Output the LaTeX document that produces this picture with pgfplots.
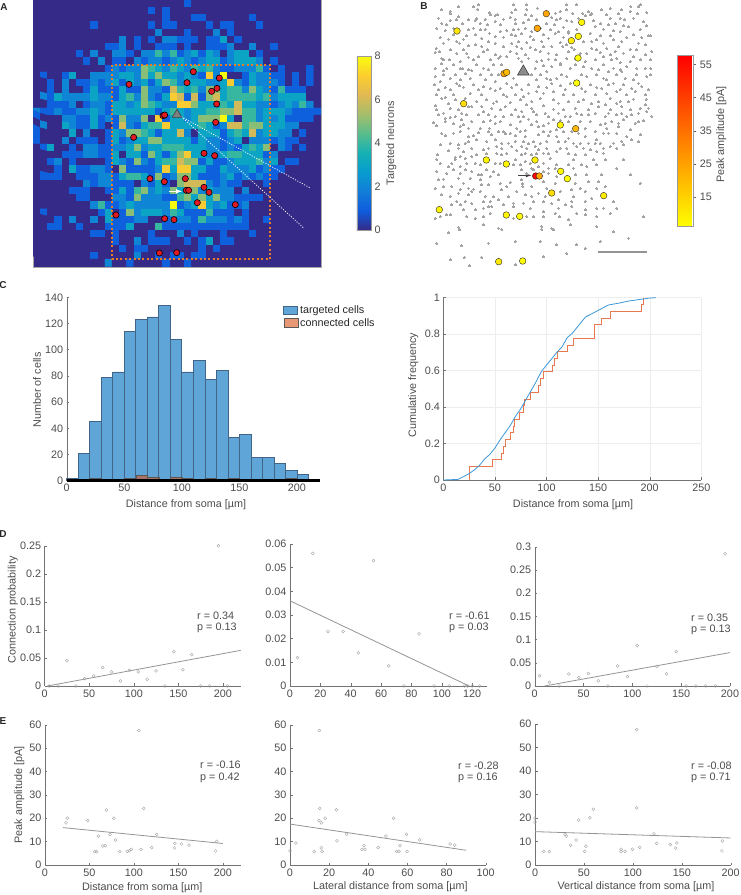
\documentclass[border=0pt]{standalone}
\usepackage{pgfplots}
\pgfplotsset{compat=1.18}
\usepackage{fontspec}
\setmainfont{Liberation Sans}
\definecolor{txt}{gray}{0.3}
\definecolor{barblue}{RGB}{95,165,215}
\definecolor{baredge}{RGB}{65,100,135}
\definecolor{conn}{RGB}{217,83,25}
\definecolor{cdfblue}{RGB}{60,150,215}
\definecolor{cdforange}{RGB}{232,120,80}
\definecolor{navy0}{RGB}{53,42,135}
\newcommand\fs{\fontsize{10.8}{12}\selectfont}
\pgfplotsset{
 base/.style={scale only axis, axis lines=left, axis line style={draw=black!55,-},
  tick style={draw=black!55,line width=.4pt}, major tick length=2.5pt, tick align=inside,
  ticklabel style={font=\fs,text=txt}, label style={font=\fs,text=txt}, scaled y ticks=false,
  /pgf/number format/assume math mode=true, /pgf/number format/fixed, /pgf/number format/precision=2, clip=false},
 xl/.style 2 args={x label style={at={(axis description cs:#1,#2)},anchor=center}},
 yl/.style 2 args={y label style={at={(axis description cs:#1,#2)},anchor=center}},
 dots/.style={only marks, mark=o, mark size=1.5, mark options={draw=black!38,line width=.35pt}},
 fit/.style={draw=black!42, line width=.8pt},
 cb/.style={scale only axis, ticklabel style={font=\fs,text=txt}, label style={font=\fs,text=txt},
  /pgf/number format/assume math mode=true, axis line style={draw=black!40,line width=.5pt},
  yticklabel pos=right, ytick pos=right, xtick=\empty},
}
\begin{document}
\begin{tikzpicture}[x=1pt,y=1pt]
\useasboundingbox (0,0) rectangle (740,895);
% ---------- A
\begin{axis}[scale only axis, at={(33pt,628pt)}, anchor=south west, width=288pt, height=267pt,
 xmin=100, xmax=964, ymin=0, ymax=801, y dir=reverse, xtick=\empty, ytick=\empty,
 axis background/.style={fill=navy0},
 axis line style={draw=black!35,line width=.6pt}, 
 colormap={parula}{rgb255=(53,42,135) rgb255=(15,92,221) rgb255=(18,125,216) rgb255=(7,156,207) rgb255=(21,177,180) rgb255=(89,189,140) rgb255=(165,190,107) rgb255=(225,185,82) rgb255=(252,206,46) rgb255=(249,251,14)},
 point meta min=0, point meta max=8,
 colorbar, colorbar style={at={(1.125,0.79)}, anchor=north west, width=14pt, height=174pt, cb,
  ytick={0,2,4,6,8}, major tick length=0pt, ylabel={Targeted neurons},
  y label style={at={(axis description cs:2.45,0.5)},anchor=center}}]
\addplot[matrix plot*, mesh/cols=40, point meta=explicit]
 table[header=false, row sep=\\, x expr={100+21.6*mod(\coordindex,40)+10.8}, y expr={21.6*floor(\coordindex/40)+10.8}, meta index=0]{
0\\0\\0\\0\\0\\0\\0\\0\\0\\0\\0\\0\\0\\0\\0\\0\\0\\0\\0\\0\\0\\1\\0\\0\\0\\0\\0\\0\\0\\0\\0\\0\\0\\0\\0\\0\\0\\0\\0\\0\\
0\\0\\0\\0\\0\\0\\0\\0\\0\\0\\0\\0\\0\\0\\0\\0\\1\\0\\1\\0\\0\\0\\0\\0\\0\\0\\0\\0\\0\\0\\0\\0\\0\\0\\0\\0\\0\\0\\0\\0\\
0\\0\\0\\0\\0\\0\\0\\0\\0\\0\\0\\0\\0\\0\\0\\0\\0\\0\\1\\0\\0\\0\\1\\1\\0\\0\\0\\0\\0\\0\\1\\0\\0\\0\\0\\0\\0\\0\\0\\0\\
0\\0\\0\\0\\0\\0\\0\\0\\1\\0\\0\\0\\0\\0\\0\\0\\1\\0\\1\\1\\0\\0\\0\\0\\1\\0\\1\\1\\0\\0\\0\\1\\0\\0\\0\\0\\0\\0\\0\\0\\
0\\0\\0\\0\\0\\0\\0\\0\\0\\0\\0\\0\\0\\0\\0\\0\\0\\2\\0\\0\\0\\1\\0\\0\\0\\2\\0\\1\\0\\0\\0\\0\\0\\0\\0\\0\\0\\0\\0\\0\\
0\\0\\0\\0\\0\\0\\0\\0\\0\\0\\0\\0\\2\\0\\1\\0\\1\\0\\2\\2\\1\\1\\1\\0\\1\\1\\3\\0\\1\\0\\0\\0\\0\\0\\0\\0\\0\\0\\0\\0\\
0\\0\\0\\0\\0\\0\\0\\0\\0\\0\\1\\1\\2\\0\\1\\0\\0\\1\\1\\1\\0\\1\\0\\0\\1\\1\\1\\2\\0\\0\\2\\0\\0\\1\\0\\0\\0\\0\\0\\0\\
0\\0\\0\\0\\0\\0\\1\\0\\2\\0\\0\\2\\2\\1\\0\\2\\2\\4\\2\\4\\1\\2\\3\\1\\3\\2\\0\\2\\3\\3\\0\\1\\0\\0\\0\\0\\0\\0\\0\\0\\
0\\0\\0\\0\\0\\0\\0\\1\\0\\2\\0\\1\\1\\0\\2\\1\\2\\2\\1\\2\\3\\2\\1\\2\\3\\3\\1\\2\\3\\3\\3\\2\\0\\1\\0\\0\\0\\0\\0\\0\\
0\\0\\0\\0\\0\\0\\0\\0\\0\\0\\1\\2\\1\\2\\2\\5\\4\\3\\2\\4\\3\\2\\4\\3\\4\\2\\1\\1\\2\\2\\2\\4\\1\\0\\1\\0\\0\\0\\1\\0\\
0\\1\\0\\0\\1\\3\\0\\0\\2\\2\\2\\2\\3\\3\\2\\5\\3\\5\\3\\3\\2\\3\\2\\1\\7\\2\\8\\0\\0\\1\\3\\2\\2\\1\\1\\0\\1\\0\\1\\0\\
0\\0\\1\\0\\2\\0\\1\\1\\2\\1\\2\\3\\1\\3\\2\\3\\1\\3\\5\\4\\2\\3\\3\\3\\2\\2\\3\\7\\2\\1\\3\\2\\2\\2\\1\\0\\1\\0\\1\\0\\
0\\0\\1\\0\\2\\0\\0\\1\\3\\1\\1\\1\\3\\1\\1\\5\\2\\2\\1\\6\\4\\3\\4\\2\\5\\5\\3\\4\\4\\2\\5\\3\\2\\1\\4\\1\\1\\1\\0\\0\\
0\\2\\1\\3\\2\\2\\2\\2\\3\\2\\2\\1\\3\\4\\2\\5\\2\\1\\3\\7\\6\\1\\6\\1\\5\\6\\3\\4\\4\\4\\4\\3\\4\\2\\3\\3\\3\\3\\0\\0\\
0\\0\\1\\1\\1\\2\\0\\1\\2\\2\\1\\3\\3\\2\\3\\5\\4\\3\\2\\2\\7\\7\\5\\3\\3\\3\\4\\3\\6\\3\\3\\2\\2\\1\\2\\3\\2\\4\\2\\0\\
2\\1\\1\\2\\1\\1\\2\\2\\3\\2\\1\\3\\3\\3\\3\\3\\3\\1\\3\\4\\3\\2\\3\\3\\4\\4\\5\\5\\6\\4\\4\\2\\3\\3\\3\\2\\1\\1\\1\\1\\
1\\0\\0\\0\\2\\2\\1\\1\\3\\1\\2\\1\\5\\2\\2\\5\\0\\7\\1\\3\\3\\2\\3\\5\\5\\5\\8\\3\\0\\4\\4\\2\\3\\2\\3\\1\\1\\1\\1\\0\\
0\\2\\0\\0\\3\\2\\1\\1\\3\\1\\0\\1\\6\\2\\1\\3\\4\\4\\7\\3\\3\\3\\3\\4\\3\\1\\2\\6\\6\\4\\5\\5\\3\\3\\3\\2\\2\\0\\0\\0\\
1\\0\\0\\0\\0\\3\\0\\2\\0\\0\\1\\3\\2\\5\\5\\4\\3\\1\\3\\3\\6\\2\\0\\3\\3\\3\\1\\3\\4\\3\\6\\2\\3\\3\\2\\2\\0\\1\\0\\0\\
1\\0\\0\\0\\2\\0\\1\\1\\1\\0\\1\\3\\1\\2\\3\\3\\5\\5\\3\\3\\3\\3\\1\\3\\2\\2\\1\\2\\3\\0\\2\\2\\2\\1\\2\\1\\1\\0\\0\\0\\
0\\1\\3\\0\\0\\1\\0\\2\\2\\1\\1\\2\\2\\3\\5\\2\\3\\3\\4\\4\\4\\3\\3\\3\\2\\2\\1\\2\\1\\3\\4\\3\\5\\0\\2\\1\\0\\1\\0\\0\\
0\\0\\0\\0\\1\\1\\1\\2\\2\\1\\1\\3\\0\\3\\3\\1\\5\\3\\1\\3\\5\\7\\3\\3\\2\\2\\3\\4\\4\\3\\3\\3\\1\\2\\0\\0\\0\\0\\0\\0\\
0\\0\\1\\2\\0\\1\\0\\0\\0\\0\\1\\3\\2\\1\\5\\2\\1\\3\\4\\4\\6\\5\\5\\1\\3\\1\\1\\2\\3\\3\\3\\4\\2\\3\\0\\1\\1\\0\\0\\0\\
0\\0\\0\\1\\0\\3\\1\\1\\2\\2\\1\\0\\5\\1\\1\\1\\1\\2\\7\\3\\7\\7\\3\\3\\1\\1\\3\\2\\2\\2\\3\\1\\2\\1\\1\\0\\0\\0\\0\\0\\
0\\1\\1\\1\\0\\0\\1\\1\\1\\2\\2\\1\\3\\4\\4\\3\\1\\5\\1\\2\\5\\5\\3\\1\\1\\1\\2\\3\\1\\2\\1\\2\\1\\1\\0\\0\\0\\0\\0\\0\\
0\\0\\0\\0\\0\\0\\0\\2\\1\\2\\2\\1\\1\\1\\0\\2\\1\\3\\1\\0\\5\\6\\6\\6\\2\\1\\2\\1\\1\\0\\0\\0\\1\\0\\0\\0\\0\\0\\0\\0\\
0\\0\\0\\0\\0\\1\\1\\1\\0\\0\\1\\1\\3\\1\\4\\5\\2\\3\\2\\5\\3\\4\\5\\2\\3\\2\\2\\2\\0\\2\\0\\0\\0\\0\\0\\0\\0\\0\\0\\0\\
0\\0\\0\\0\\0\\0\\1\\1\\0\\0\\0\\2\\2\\1\\5\\2\\2\\2\\1\\1\\4\\5\\3\\5\\3\\5\\2\\2\\1\\1\\1\\1\\0\\0\\0\\0\\0\\0\\0\\0\\
0\\0\\0\\0\\0\\0\\0\\0\\2\\4\\1\\1\\2\\3\\2\\2\\2\\2\\2\\8\\1\\2\\3\\7\\3\\2\\3\\1\\1\\2\\0\\0\\0\\0\\0\\0\\0\\0\\0\\0\\
0\\1\\0\\0\\0\\0\\0\\0\\0\\1\\3\\0\\1\\5\\2\\3\\3\\3\\2\\4\\3\\1\\1\\1\\4\\1\\1\\1\\0\\1\\0\\0\\0\\0\\0\\0\\0\\0\\0\\0\\
0\\0\\0\\1\\0\\2\\0\\0\\2\\0\\3\\1\\1\\1\\2\\2\\0\\0\\1\\2\\2\\2\\1\\4\\2\\2\\2\\1\\2\\1\\0\\0\\1\\0\\0\\0\\0\\0\\0\\0\\
0\\0\\1\\1\\0\\0\\1\\0\\0\\0\\1\\1\\1\\3\\0\\0\\0\\4\\1\\1\\1\\1\\1\\1\\1\\1\\1\\1\\1\\1\\0\\0\\0\\0\\0\\0\\0\\0\\0\\0\\
0\\0\\0\\0\\0\\0\\0\\0\\1\\1\\0\\1\\0\\0\\0\\0\\1\\0\\0\\0\\2\\0\\1\\0\\0\\0\\1\\0\\0\\0\\1\\0\\0\\0\\0\\0\\0\\0\\0\\0\\
0\\0\\0\\0\\0\\0\\0\\0\\0\\0\\0\\1\\0\\0\\2\\0\\1\\1\\1\\0\\0\\1\\0\\1\\3\\0\\1\\1\\0\\0\\0\\0\\0\\0\\0\\0\\0\\0\\0\\0\\
0\\0\\0\\0\\0\\0\\0\\0\\0\\0\\0\\0\\1\\0\\1\\1\\0\\0\\0\\0\\0\\0\\0\\1\\0\\1\\0\\0\\0\\0\\0\\0\\0\\0\\0\\0\\0\\0\\0\\0\\
0\\0\\0\\0\\0\\0\\0\\0\\1\\0\\0\\0\\0\\0\\2\\0\\0\\1\\0\\1\\1\\0\\1\\1\\0\\0\\0\\0\\0\\0\\0\\0\\0\\0\\0\\0\\0\\0\\0\\0\\
0\\0\\0\\0\\0\\0\\0\\0\\0\\0\\2\\0\\0\\1\\0\\0\\0\\0\\1\\0\\0\\1\\0\\0\\0\\0\\0\\0\\0\\0\\0\\0\\0\\0\\0\\0\\0\\0\\0\\0\\
};
\draw[color={rgb,255:red,232;green,125;blue,35}, line width=1.9pt, dash pattern=on 2pt off 2.4pt] (axis cs:338,195) rectangle (axis cs:811,778);
\draw[white, line width=.8pt, dash pattern=on 1pt off 1.6pt] (axis cs:545,350) -- (axis cs:930,563);
\draw[white, line width=.8pt, dash pattern=on 1pt off 1.6pt] (axis cs:545,350) -- (axis cs:913,685);
\draw[white, line width=1pt, -latex] (axis cs:508,574) -- (axis cs:547,574);
\addplot[only marks, mark=*, mark size=3.1, mark options={fill={rgb,255:red,225;green,25;blue,35},draw=black,line width=.6pt}] coordinates {
(388,253)(581,215)(562,248)(659,234)(652,265)(636,274)(651,312)(490,347)(495,345)(648,367)(402,412)(613,460)(645,467)(451,536)(494,545)(557,536)(613,562)(628,577)(560,571)(567,571)(593,608)(707,614)(349,645)(495,656)(523,659)(479,759)(531,758)};
\addplot[only marks, mark=triangle*, mark size=5.4, mark options={fill=black!50,draw=black!75,line width=.6pt}] coordinates {(532,344)};
\end{axis}
% ---------- B
\begin{axis}[scale only axis, at={(400pt,620pt)}, anchor=south west, width=340pt, height=275pt,
 xmin=0, xmax=1020, ymin=0, ymax=825, y dir=reverse, hide axis, clip=false,
 colormap={yr}{rgb255=(255,255,0) rgb255=(255,0,0)}, point meta min=5.9, point meta max=57.9,
 colorbar, colorbar style={at={(0.8167,0.8)}, anchor=north west, width=15.7pt, height=171.7pt, cb,
  ytick={15,25,35,45,55}, tick align=outside, major tick length=3pt, tick style={draw=black!60},
  ylabel={Peak amplitude [pA]},
  y label style={at={(axis description cs:2.78,0.538)},anchor=center}}]
\addplot[only marks, color=black!36, mark=*, mark size=1, mark options={color=black!36,fill=black!36,draw=black!36,line width=0pt}] table[row sep=\\, header=false]{
175 20\\220 20\\235 15\\233 28\\340 15\\378 15\\380 28\\345 30\\335 37\\412 25\\500 15\\530 15\\565 35\\575 40\\548 40\\630 25\\665 30\\692 20\\715 20\\720 15\\690 35\\740 38\\125 30\\150 35\\150 42\\268 38\\292 45\\285 47\\270 45\\466 40\\500 30\\480 35\\518 40\\605 30\\
115 55\\175 50\\170 60\\230 55\\240 70\\225 62\\310 58\\330 52\\375 45\\385 60\\345 58\\395 48\\470 60\\500 62\\515 65\\480 55\\555 48\\570 45\\600 72\\630 55\\660 55\\700 55\\730 65\\125 70\\150 62\\188 72\\262 75\\285 65\\345 72\\370 68\\440 72\\462 75\\580 62\\645 72\\672 60\\
110 85\\135 92\\220 85\\240 90\\300 95\\320 92\\355 88\\375 85\\395 95\\450 90\\490 82\\505 95\\585 80\\610 88\\640 92\\685 80\\720 88\\745 108\\752 108\\160 105\\200 108\\225 105\\268 100\\285 110\\335 105\\345 108\\365 102\\430 105\\465 100\\505 100\\570 100\\600 108\\660 95\\700 105\\
130 130\\170 125\\178 130\\205 138\\265 125\\285 130\\335 130\\355 125\\380 128\\400 120\\425 125\\480 128\\500 135\\550 125\\575 125\\610 130\\640 120\\665 125\\715 130\\735 135\\108 145\\150 150\\225 135\\245 140\\310 140\\350 140\\365 145\\390 142\\455 140\\488 140\\522 148\\575 145\\620 145\\655 140\\690 148\\
105 158\\125 175\\170 160\\200 160\\235 170\\285 165\\300 170\\350 160\\375 165\\420 155\\445 160\\470 165\\505 155\\560 160\\600 158\\630 165\\670 160\\700 170\\735 165\\755 155\\130 180\\125 192\\180 185\\220 180\\270 180\\295 175\\355 175\\385 175\\410 185\\425 182\\465 180\\500 175\\555 185\\585 180\\635 180\\660 188\\690 185\\720 180\\
105 205\\140 205\\180 207\\188 207\\205 210\\215 212\\250 205\\280 195\\305 195\\430 198\\455 200\\480 195\\550 200\\575 205\\610 195\\640 205\\680 200\\735 205\\752 205\\
105 230\\130 225\\150 235\\180 240\\210 235\\240 225\\275 225\\295 225\\340 235\\395 225\\420 225\\450 240\\470 235\\500 230\\560 230\\590 225\\620 240\\650 225\\675 235\\710 225\\740 230\\
103 255\\135 262\\170 250\\178 258\\220 255\\250 260\\270 265\\300 265\\335 262\\350 255\\385 255\\415 260\\455 250\\480 258\\510 250\\570 255\\605 265\\640 250\\670 255\\695 265\\725 260\\
110 285\\125 295\\160 285\\210 280\\245 285\\310 285\\320 290\\345 285\\370 290\\385 280\\430 280\\460 275\\490 285\\520 285\\555 275\\585 285\\620 280\\650 275\\680 285\\705 275\\735 285\\
135 292\\165 300\\230 305\\260 300\\290 305\\330 308\\360 300\\395 305\\420 295\\460 300\\505 305\\550 300\\595 305\\630 295\\660 305\\700 298\\738 298\\
105 318\\110 330\\150 325\\175 330\\215 320\\245 320\\275 325\\300 330\\345 330\\365 335\\395 325\\460 328\\490 330\\525 325\\565 330\\595 320\\630 330\\665 320\\690 330\\720 325\\745 325\\
115 345\\135 355\\165 350\\200 345\\235 345\\265 345\\285 350\\335 345\\370 350\\410 345\\445 350\\475 340\\510 350\\545 345\\585 340\\615 350\\650 345\\680 350\\715 340\\740 335\\
100 368\\135 365\\150 352\\185 360\\215 365\\270 362\\285 370\\300 365\\360 365\\395 375\\430 378\\460 360\\505 365\\570 365\\600 375\\635 365\\670 360\\705 370\\730 362\\
110 378\\180 380\\205 385\\240 385\\268 385\\310 395\\315 402\\375 392\\415 380\\450 395\\490 395\\555 385\\585 395\\620 385\\655 380\\690 390\\
135 408\\180 395\\205 410\\220 408\\265 395\\275 405\\345 408\\375 410\\415 405\\445 408\\470 410\\505 415\\555 410\\590 420\\625 400\\665 425\\695 420\\720 405\\
150 430\\175 435\\195 430\\230 420\\260 425\\305 430\\325 430\\370 425\\385 432\\440 425\\495 425\\520 430\\565 430\\600 430\\670 435\\
145 452\\175 445\\215 445\\265 445\\305 445\\335 440\\380 445\\405 440\\415 450\\480 445\\530 440\\570 450\\610 445\\650 445\\715 425\\
112 465\\110 478\\180 470\\165 472\\195 475\\230 465\\290 460\\305 465\\365 465\\395 465\\430 460\\470 455\\525 465\\610 460\\
120 490\\155 490\\200 490\\225 490\\285 490\\345 480\\375 485\\390 490\\430 490\\450 475\\520 480\\580 480\\615 480\\670 480\\
110 515\\160 510\\195 510\\235 525\\245 525\\260 510\\340 495\\365 510\\415 500\\445 505\\470 495\\545 495\\590 495\\650 505\\
115 540\\130 538\\175 535\\210 535\\240 540\\270 530\\295 525\\365 540\\368 552\\400 510\\445 520\\470 530\\525 525\\605 525\\690 525\\
105 565\\155 560\\180 568\\205 565\\220 568\\245 555\\300 550\\330 548\\368 560\\430 545\\465 550\\525 550\\565 545\\720 550\\
125 585\\175 580\\215 575\\255 590\\280 590\\305 570\\350 575\\395 590\\415 580\\480 575\\515 570\\555 575\\590 565\\
170 605\\155 615\\195 605\\250 605\\270 605\\295 600\\340 610\\370 610\\430 605\\475 600\\515 605\\575 595\\640 605\\
140 645\\150 645\\190 630\\225 630\\250 625\\275 620\\340 620\\390 625\\430 635\\475 625\\515 620\\555 630\\590 625\\650 625\\
105 655\\175 682\\178 690\\225 655\\270 640\\380 650\\430 650\\478 650\\505 660\\555 645\\590 650\\630 640\\730 650\\
145 698\\250 675\\295 685\\305 688\\425 680\\425 688\\455 685\\460 690\\510 675\\590 680\\640 695\\110 730\\
185 738\\265 730\\345 725\\420 725\\470 735\\530 735\\555 745\\685 715\\600 725\\
152 780\\192 773\\245 772\\208 798\\345 795\\430 770\\500 760\\
140 75\\205 60\\255 58\\300 75\\410 60\\455 52\\535 55\\620 45\\655 42\\712 42\\160 85\\205 90\\255 88\\340 90\\420 85\\475 95\\530 88\\625 75\\670 78\\738 78\\120 112\\145 118\\190 118\\245 115\\310 112\\390 110\\445 115\\490 112\\530 108\\590 120\\630 108\\680 112\\725 112\\
118 155\\190 150\\262 150\\330 155\\405 150\\430 140\\515 142\\540 160\\590 150\\645 155\\710 150\\148 180\\205 172\\250 155\\320 170\\365 185\\445 178\\480 190\\525 175\\610 170\\650 175\\750 180\\130 212\\160 195\\230 195\\265 210\\405 205\\440 215\\510 205\\525 195\\595 210\\625 215\\660 210\\710 205\\
120 245\\165 225\\195 222\\255 240\\285 245\\320 250\\410 240\\440 235\\485 225\\545 225\\610 235\\665 215\\700 240\\750 225\\115 270\\150 270\\190 262\\235 270\\285 272\\365 268\\410 275\\440 262\\495 268\\545 265\\590 262\\625 255\\660 268\\715 250\\745 270\\
145 312\\195 295\\205 320\\280 310\\315 320\\380 315\\430 318\\475 310\\535 305\\575 312\\615 315\\650 310\\685 305\\735 315\\130 340\\185 340\\250 335\\310 350\\355 350\\400 335\\435 340\\495 350\\530 340\\565 345\\625 340\\665 340\\695 345\\755 350\\
160 372\\190 375\\250 365\\330 375\\350 385\\385 358\\410 365\\445 370\\480 362\\540 365\\615 370\\655 370\\715 365\\125 400\\160 400\\235 398\\295 395\\330 400\\360 395\\430 395\\470 390\\515 395\\535 400\\610 400\\650 400\\680 410\\
120 435\\205 425\\285 420\\345 425\\400 425\\420 430\\475 425\\540 430\\585 430\\640 430\\190 455\\250 450\\290 440\\350 452\\365 440\\440 445\\500 445\\550 445\\590 455\\630 440\\165 478\\215 470\\260 462\\320 460\\375 460\\410 462\\445 462\\505 462\\555 465\\
145 500\\180 500\\240 495\\300 490\\360 495\\395 505\\465 505\\505 495\\560 500\\140 520\\180 520\\215 515\\280 515\\380 520\\430 515\\520 505\\560 525\\130 560\\190 550\\265 555\\320 560\\395 560\\440 565\\540 565\\595 545\\150 590\\205 585\\240 575\\325 590\\375 585\\435 590\\520 590\\615 560\\
180 615\\215 610\\265 620\\310 615\\400 605\\455 610\\495 615\\555 605\\120 650\\200 650\\250 650\\340 655\\400 650\\465 640\\530 640\\610 625\\
};
\addplot[scatter, only marks, scatter src=explicit, mark=*, mark size=3.3,
 scatter/use mapped color={draw=black!85,fill=mapped color}] table[meta=c]{
x y c
439 41 24
412 85 24
545 67 8
535 109 8
514 122 10
171 93 11
534 174 6
312 221 24
320 217 20
530 249 6
191 311 13
481 375 8
527 386 20
259 480 8
319 492 8
405 480 9
407 528 57
418 528 24
482 514 7
502 536 6
455 579 13
611 587 10
118 629 8
319 645 8
359 649 7
296 785 10
368 783 6
};
\addplot[only marks, mark=triangle*, mark size=6.7, mark options={fill=black!45,draw=black!75,line width=.6pt}] coordinates {(370,215)};
\draw[black!75, line width=.9pt, -latex] (axis cs:355,526) -- (axis cs:394,526);
\draw[black!42, line width=1.8pt] (axis cs:595,755) -- (axis cs:742,755);
\end{axis}
% ---------- C left
\begin{axis}[base, at={(66.7pt,414.3pt)}, anchor=south west, width=253.3pt, height=183.4pt,
 xmin=0, xmax=220, ymin=0, ymax=140, xtick={0,50,100,150,200}, ytick={0,20,...,140},
 xlabel={Distance from soma [µm]}, ylabel={Number of cells}, xl={0.471}{-0.1325}, yl={-0.117}{0.495},
 legend style={draw=none, fill=none, at={(axis description cs:0.843,0.975)}, anchor=north west, font=\fs, text=black!85, row sep=-1pt},
 legend cell align=left,
 legend image code/.code={\draw[#1] (0pt,-4pt) rectangle (14pt,4.5pt);}]
\addplot[ybar interval, fill=barblue, draw=baredge, line width=.7pt] coordinates {
(0,2)(10,21)(20,45)(30,79)(40,83)(50,114)(60,123)(70,125)(80,134)(90,108)(100,83)(110,92)(120,77)(130,84)(140,33)(150,35)(160,18)(170,18)(180,13)(190,8)(200,5)(210,0)};
\addlegendentry{targeted cells}
\addplot[ybar interval, fill=conn, fill opacity=.6, draw=black!65, line width=.5pt] coordinates {
(0,0)(10,0)(20,2)(30,0)(40,1)(50,2)(60,4)(70,3)(80,1)(90,3)(100,2)(110,1)(120,2)(130,0)(140,2)(150,1)(160,1)(170,0)(180,0)(190,2)(200,0)(210,0)};
\addlegendentry{connected cells}
\draw[black, line width=2.4pt] (axis cs:0,0) -- (axis cs:220,0);
\end{axis}
% ---------- C right
\begin{axis}[base, at={(443.3pt,415pt)}, anchor=south west, width=258pt, height=182.3pt,
 xmin=0, xmax=250, ymin=0, ymax=1, xtick={0,50,...,250}, ytick={0,0.2,0.4,0.6,0.8,1},
 grid=major, grid style={draw=black!7,line width=.4pt},
 xlabel={Distance from soma [µm]}, ylabel={Cumulative frequency}, xl={0.503}{-0.133}, yl={-0.116}{0.521}]
\addplot[const plot, color=cdforange, line width=.8pt] coordinates {
(25,0)(25,0.074)(48,0.111)(56,0.148)(58,0.185)(60,0.222)(65,0.259)(68,0.296)(69,0.333)(74,0.37)(77.5,0.407)(79,0.444)(84,0.481)(92,0.519)(94,0.556)(97,0.593)(106,0.63)(108,0.667)(111,0.704)(120,0.741)(126,0.778)(146,0.852)(153,0.889)(162,0.926)(192,0.963)(194,1)};
\addplot[color=cdfblue, line width=.8pt] coordinates {
(0,0)(14,0.003)(20,0.02)(25,0.035)(30,0.055)(35,0.08)(40,0.115)(45,0.14)(50,0.175)(55,0.22)(60,0.26)(65,0.30)(70,0.35)(75,0.39)(80,0.44)(85,0.49)(90,0.54)(95,0.595)(100,0.63)(105,0.665)(110,0.70)(115,0.73)(120,0.78)(125,0.805)(130,0.84)(135,0.875)(138,0.895)(145,0.915)(150,0.93)(155,0.945)(160,0.96)(170,0.97)(180,0.982)(190,0.99)(200,0.998)(206,1)};
\end{axis}
% ---------- D1
\begin{axis}[base, at={(44.7pt,209pt)}, anchor=south west, width=196pt, height=140.3pt,
 xmin=0, xmax=220, ymin=0, ymax=0.25, xtick={0,50,100,150,200}, ytick={0,0.05,0.1,0.15,0.2,0.25},
 ylabel={Connection probability}, yl={-0.163}{0.542}]
\addplot[dots] coordinates {(5,0)(15,0)(25,.045)(35,0)(45,.013)(55,.018)(65,.033)(75,.025)(85,.009)(95,.028)(105,.025)(115,.012)(125,.027)(135,0)(145,.061)(155,.029)(165,.056)(175,0)(185,0)(195,.25)(205,0)};
\addplot[fit] coordinates {(3,0)(220,.0635)};
\end{axis}
% ---------- D2
\begin{axis}[base, at={(290pt,209pt)}, anchor=south west, width=197.3pt, height=142pt,
 xmin=0, xmax=130, ymin=0, ymax=0.06, xtick={0,20,...,120}, ytick={0,0.01,0.02,0.03,0.04,0.05,0.06}]
\addplot[dots] coordinates {(5,.012)(15,.056)(25,.023)(35,.023)(45,.014)(55,.053)(65,.0085)(75,0)(85,.022)(95,0)(105,0)(115,0)(117,0)(120,0)(125,0)};
\addplot[fit] coordinates {(0,.036)(118,0)};
\end{axis}
% ---------- D3
\begin{axis}[base, at={(534.7pt,209pt)}, anchor=south west, width=195.3pt, height=139.3pt,
 xmin=0, xmax=200, ymin=0, ymax=0.3, xtick={0,50,100,150,200}, ytick={0,0.05,0.1,0.15,0.2,0.25,0.3}]
\addplot[dots] coordinates {(5,.022)(15,.008)(25,0)(35,.026)(45,.018)(55,.027)(65,.011)(75,0)(85,.043)(95,.02)(105,.087)(115,0)(125,.042)(135,.026)(145,.074)(155,0)(165,0)(175,0)(185,0)(195,.285)};
\addplot[fit] coordinates {(10,0)(200,.072)};
\end{axis}
% ---------- E1
\begin{axis}[base, at={(45pt,30pt)}, anchor=south west, width=195.7pt, height=140.3pt,
 xmin=0, xmax=220, ymin=0, ymax=60, xtick={0,50,100,150,200}, ytick={0,10,...,60},
 xlabel={Distance from soma [µm]}, ylabel={Peak amplitude [pA]}, xl={0.497}{-0.162}, yl={-0.131}{0.499}]
\addplot[dots] coordinates {(23.7,18)(25,20)(48,19)(56,5.7)(58,5.7)(60,12.3)(65,8.1)(67.7,8.3)(69,23.5)(73,13)(77.5,20)(79,10.7)(84,5.7)(92.5,5.8)(95,6.1)(97,6.7)(105.6,57.5)(108,6.7)(111,24.2)(120,7.4)(125.6,13.1)(145.5,7.3)(146,9.3)(153.4,9)(162,8.5)(191.7,6)(193,10.1)};
\addplot[fit] coordinates {(20,16)(200,9.2)};
\end{axis}
% ---------- E2
\begin{axis}[base, at={(290pt,30pt)}, anchor=south west, width=195.7pt, height=140.3pt,
 xmin=0, xmax=100, ymin=0, ymax=60, xtick={0,20,...,100}, ytick={0,10,...,60},
 xlabel={Lateral distance from soma [µm]}, xl={0.513}{-0.155}]
\addplot[dots] coordinates {(0,6)(3,9.4)(12.4,5.7)(15,57.5)(15.2,24.2)(14.8,19)(16,18)(16,7.3)(16.4,5.8)(18,20)(23.7,23.6)(24,10.3)(29,13.2)(36.8,6.7)(37.8,8.3)(38.3,6.7)(45,7.5)(49,12.4)(53,20)(54.5,5.8)(55.7,5.8)(56.2,8.3)(59.5,13.1)(59.8,5.7)(66.3,10.7)(81.8,9)(84.2,8.5)};
\addplot[fit] coordinates {(0,17.5)(90,6.3)};
\end{axis}
% ---------- E3
\begin{axis}[base, at={(535pt,30pt)}, anchor=south west, width=195.7pt, height=141pt,
 xmin=0, xmax=200, ymin=0, ymax=60, xtick={0,50,100,150,200}, ytick={0,10,...,60},
 xlabel={Vertical distance from soma [µm]}, xl={0.516}{-0.155}]
\addplot[dots] coordinates {(0,19.9)(0,18.2)(8.9,5.8)(14.6,5.7)(30.7,13)(32,12.3)(36.5,8.4)(42,10.6)(44.6,19.1)(50.8,5.8)(52,8)(56,20.1)(59.6,23.7)(88,6.7)(88,5.8)(92,5.8)(99.5,6.7)(104,57.6)(104,24.3)(107,7.5)(121.6,13.2)(124.4,9.2)(138.3,8.7)(143.8,7.2)(145,9.4)(191,6)(191.5,10.2)};
\addplot[fit] coordinates {(0,14.2)(200,11.5)};
\end{axis}
% ---------- annotations
\foreach \x/\y/\t in {197/279/{r = 0.34},197/267/{p = 0.13},449/279/{r = -0.61},449/267/{p = 0.03},691/277/{r = 0.35},691/265/{p = 0.13},200/130/{r = -0.16},200/117/{p = 0.42},458/129/{r = -0.28},458/117/{p = 0.16},691/129/{r = -0.08},691/117/{p = 0.71}}
 \node[anchor=west,inner sep=0pt,font=\fs,text=txt] at (\x,\y) {\t};
\foreach \x/\y/\t in {4/888/A,424/889/B,3/610/C,3/361/D,3/174/E}
 \node[anchor=center,inner sep=0pt,font=\fontsize{10}{11}\selectfont\bfseries,text=black!85] at (\x,\y) {\t};
\end{tikzpicture}
\end{document}
